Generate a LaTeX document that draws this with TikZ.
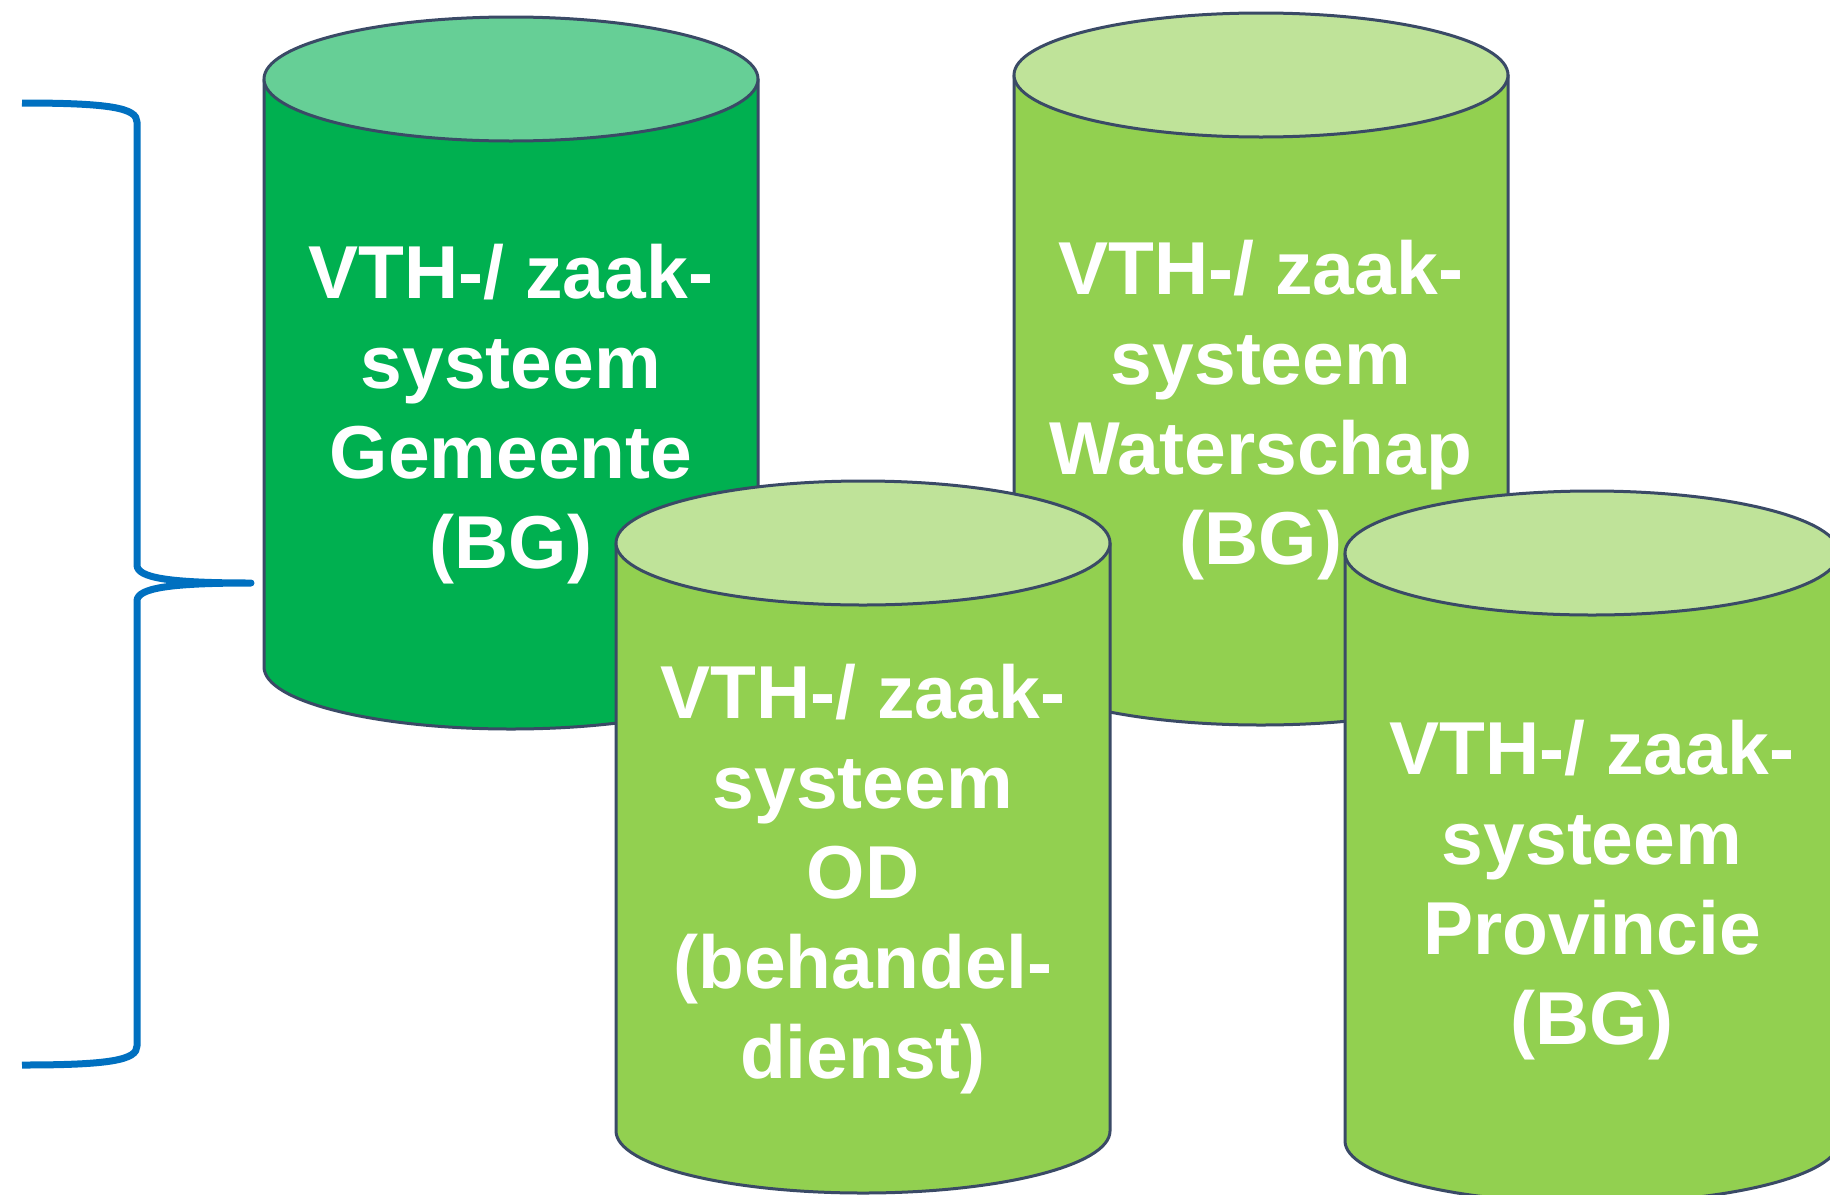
\documentclass[tikz,border=0pt]{standalone}
\usepackage{fontspec}
\setmainfont{Liberation Sans}
\definecolor{gdark}{HTML}{00B050}
\definecolor{gdarktop}{HTML}{66CF96}
\definecolor{glight}{HTML}{92D050}
\definecolor{glighttop}{HTML}{BFE399}
\definecolor{edge}{HTML}{3A4A66}
\definecolor{bracecol}{HTML}{0070C0}
\tikzset{
  cylline/.style={draw=edge, line width=3pt, line join=round},
  cyltext/.style={text=white, align=center, anchor=base, inner sep=0pt,
    font={\fontsize{75}{90}\selectfont\bfseries}},
  bracestyle/.style={draw=bracecol, line width=7pt, line join=round}
}
\begin{document}
\begin{tikzpicture}[x=1pt,y=-1pt]
\useasboundingbox (0,0) rectangle (1830,1194);
\clip (0,0) rectangle (1830,1194);
% brace
\draw[bracestyle] (22,103) .. controls (110,103) and (137,108) .. (137,122)
  -- (137,565) .. controls (137,578) and (170,583) .. (251,583)
  .. controls (170,583) and (137,588) .. (137,601)
  -- (137,1046) .. controls (137,1060) and (110,1065) .. (22,1065);
% Gemeente
\path[cylline, fill=gdark] (264,79) -- (264,667) arc[start angle=180, end angle=0, x radius=247, y radius=62] -- (758,79) -- cycle;
\path[cylline, fill=gdarktop] (511,79) ellipse[x radius=247, y radius=62];
\node[cyltext] (tgem) at (511,568) {VTH-/ zaak-\\systeem\\Gemeente\\(BG)};
% Waterschap
\path[cylline, fill=glight] (1014,75) -- (1014,663) arc[start angle=180, end angle=0, x radius=247, y radius=62] -- (1508,75) -- cycle;
\path[cylline, fill=glighttop] (1261,75) ellipse[x radius=247, y radius=62];
\node[cyltext] (twat) at (1261,564) {VTH-/ zaak-\\systeem\\Waterschap\\(BG)};
% OD
\path[cylline, fill=glight] (616,543) -- (616,1131) arc[start angle=180, end angle=0, x radius=247, y radius=62] -- (1110,543) -- cycle;
\path[cylline, fill=glighttop] (863,543) ellipse[x radius=247, y radius=62];
\node[cyltext] (tod) at (863,1078) {VTH-/ zaak-\\systeem\\OD\\(behandel-\\dienst)};
% Provincie
\path[cylline, fill=glight] (1345,553) -- (1345,1141) arc[start angle=180, end angle=0, x radius=247, y radius=62] -- (1839,553) -- cycle;
\path[cylline, fill=glighttop] (1592,553) ellipse[x radius=247, y radius=62];
\node[cyltext] (tprov) at (1592,1044) {VTH-/ zaak-\\systeem\\Provincie\\(BG)};
\end{tikzpicture}
\end{document}
